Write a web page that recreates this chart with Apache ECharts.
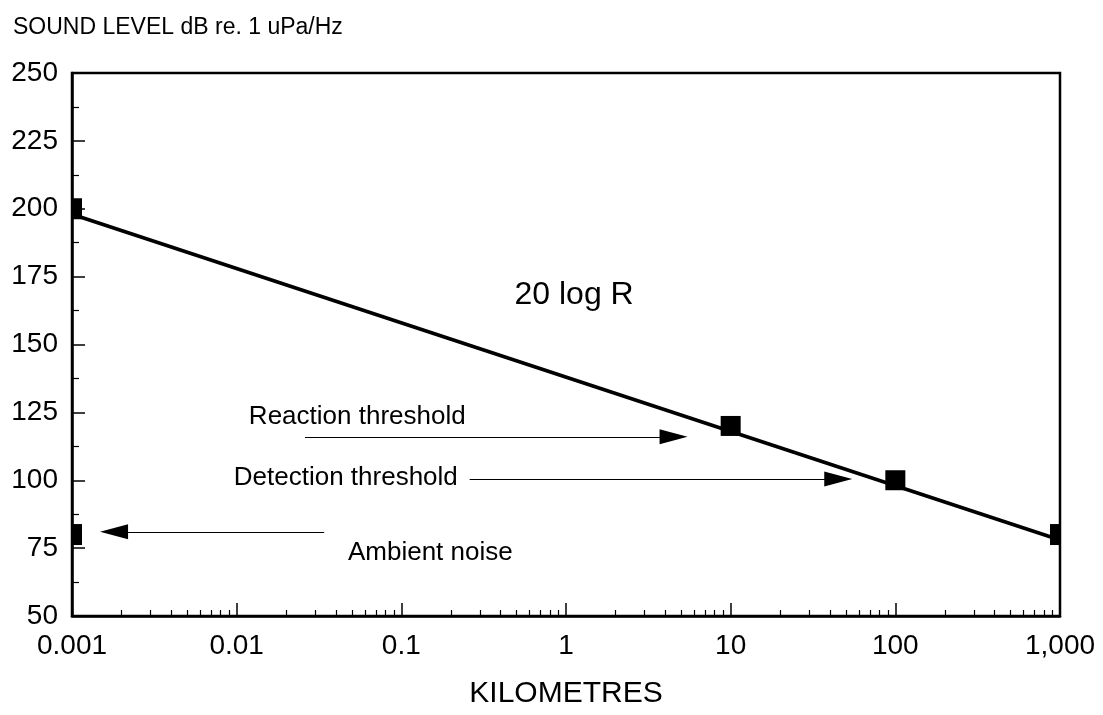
<!DOCTYPE html>
<html>
<head>
<meta charset="utf-8">
<script src="https://cdn.jsdelivr.net/npm/echarts@6/dist/echarts.min.js"></script>
<style>
  html, body { margin: 0; padding: 0; background: #fff; }
  #chart { width: 1103px; height: 715px; }
</style>
</head>
<body>
<div id="chart"></div>
<script>
// axis ticks
const xTicks = [0.001, 0.01, 0.1, 1, 10, 100, 1000];
const xTickLabels = ['0.001', '0.01', '0.1', '1', '10', '100', '1,000'];
const yMin = 50, yMax = 250, yStep = 25;

// 20 log R line
const lineKm = [0.001, 1000];
const lineDb = [198, 78];

// square markers
const pointKm = [0.001, 10, 100, 1000, 0.001];
const pointDb = [200, 120, 100, 80, 80];

// arrows: start and head (km, dB), direction of head
const arrowFromKm = [0.026, 0.26, 0.034];
const arrowToKm = [4.5, 45, 0.0018];
const arrowDb = [116, 100.5, 81];
const arrowDir = ['right', 'right', 'left'];

// text notes
const noteText = ['20 log R', 'Reaction threshold', 'Detection threshold', 'Ambient noise'];
const noteKm = [1.12, 0.054, 0.046, 0.15];
const noteDb = [168, 123.5, 100.8, 73.3];

// log minor ticks 2..9 in each decade
let minorTicks = [];
for (let i = 0; i < xTicks.length - 1; i++) {
  for (let k = 2; k <= 9; k++) minorTicks.push(+(xTicks[i] * k).toPrecision(3));
}

const font = 'Liberation Sans, Arial, Helvetica, sans-serif';
let chart = echarts.init(document.getElementById('chart'));

let edgeOffset = function (km) {
  if (km <= xTicks[0]) return [5, 0];
  if (km >= xTicks[xTicks.length - 1]) return [-5, 0];
  return [0, 0];
};

chart.setOption({
  animation: false,
  backgroundColor: '#fff',
  title: {
    text: 'SOUND LEVEL dB re. 1 uPa/Hz',
    left: 8,
    top: 11,
    textStyle: { fontFamily: font, fontSize: 23, fontWeight: 'normal', color: '#000' }
  },
  grid: {
    left: 72, right: 43, top: 73, bottom: 99,
    show: true, borderColor: '#000', borderWidth: 2.5
  },
  xAxis: [
    {
      type: 'log',
      logBase: 10,
      min: 0.001,
      max: 1000,
      name: 'KILOMETRES',
      nameLocation: 'middle',
      nameGap: 63,
      nameTextStyle: { fontFamily: font, fontSize: 30, color: '#000' },
      axisLine: { show: true, lineStyle: { color: '#000', width: 2.5 } },
      axisTick: { inside: true, length: 13, customValues: xTicks, lineStyle: { color: '#000', width: 1.5 } },
      axisLabel: {
        customValues: xTicks,
        margin: 16,
        fontFamily: font, fontSize: 28, color: '#000',
        formatter: function (v) {
          return xTickLabels[Math.round(Math.log10(v)) + 3];
        }
      },
      splitLine: { show: false },
      minorTick: { show: false },
      minorSplitLine: { show: false }
    },
    {
      type: 'log',
      logBase: 10,
      min: 0.001,
      max: 1000,
      position: 'bottom',
      axisLine: { show: false },
      axisTick: { inside: true, length: 6, customValues: minorTicks, lineStyle: { color: '#000', width: 1.2 } },
      axisLabel: { show: false },
      splitLine: { show: false }
    }
  ],
  yAxis: {
    type: 'value',
    min: yMin,
    max: yMax,
    interval: yStep,
    axisLine: { show: true, lineStyle: { color: '#000', width: 2.5 } },
    axisTick: { inside: true, length: 13, lineStyle: { color: '#000', width: 1.5 } },
    minorTick: { show: true, splitNumber: 2, length: 7, lineStyle: { color: '#000', width: 1.2 } },
    axisLabel: { margin: 14, fontFamily: font, fontSize: 28, color: '#000' },
    splitLine: { show: false }
  },
  series: [
    {
      type: 'line',
      data: lineKm.map((x, i) => [x, lineDb[i]]),
      symbol: 'none',
      lineStyle: { color: '#000', width: 3.8 },
      markLine: {
        silent: true,
        symbol: ['none', 'none'],
        label: { show: false },
        lineStyle: { color: '#000', width: 1.2, type: 'solid' },
        data: arrowFromKm.map((x, i) => [
          { coord: [x, arrowDb[i]] },
          { coord: [arrowToKm[i], arrowDb[i]] }
        ])
      },
      z: 3
    },
    {
      // arrow heads
      type: 'scatter',
      data: arrowToKm.map((x, i) => ({
        value: [x, arrowDb[i]],
        symbolRotate: arrowDir[i] === 'right' ? -90 : 90
      })),
      symbol: 'triangle',
      symbolSize: [15, 28],
      itemStyle: { color: '#000', opacity: 1 },
      z: 4
    },
    {
      type: 'scatter',
      data: pointKm.map((x, i) => {
        let off = edgeOffset(x);
        return {
          value: [x, pointDb[i]],
          symbolSize: off[0] === 0 ? 20 : [10, 21],
          symbolOffset: off
        };
      }),
      symbol: 'rect',
      itemStyle: { color: '#000', opacity: 1 },
      z: 4
    },
    {
      type: 'scatter',
      data: noteKm.map((x, i) => ({
        value: [x, noteDb[i]],
        label: { fontSize: i === 0 ? 32 : 26 }
      })),
      symbolSize: 0,
      itemStyle: { opacity: 1 },
      label: {
        show: true,
        position: 'inside',
        fontFamily: font,
        color: '#000',
        formatter: function (p) { return noteText[p.dataIndex]; }
      },
      z: 5
    }
  ]
});
</script>
</body>
</html>
